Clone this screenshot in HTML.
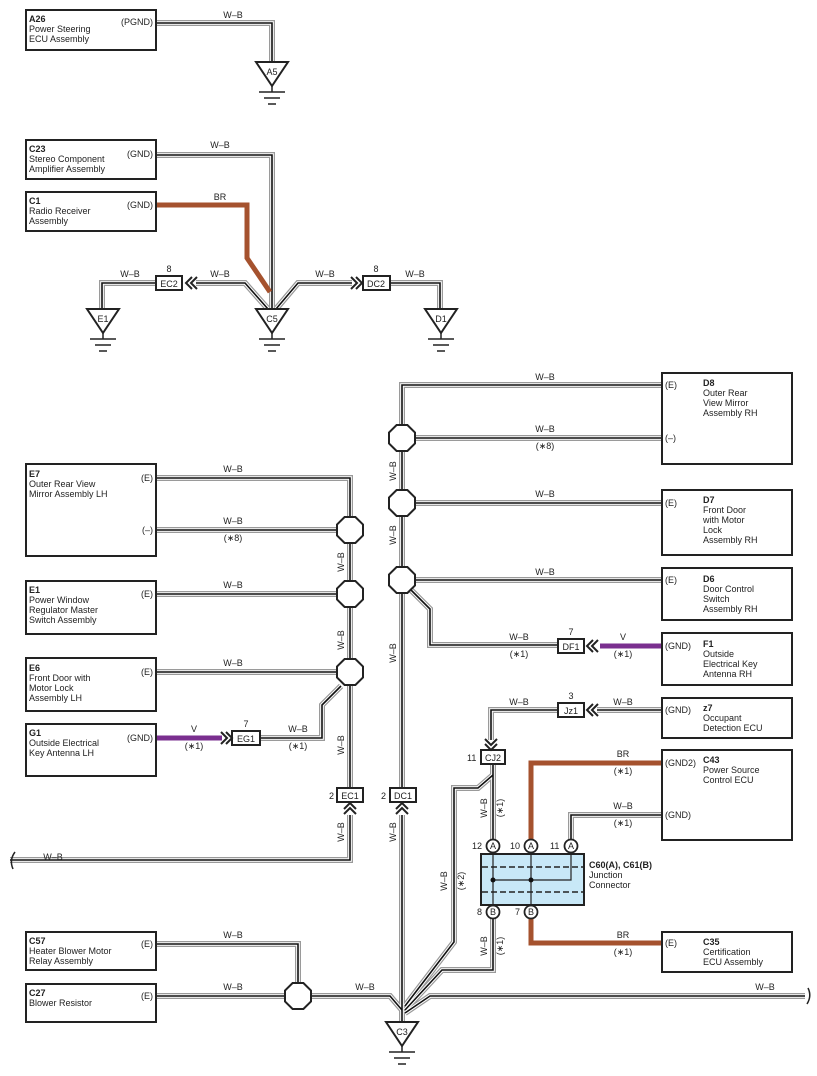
<!DOCTYPE html>
<html><head><meta charset="utf-8"><style>
html,body{margin:0;padding:0;background:#fff}
svg{display:block}
text{font-family:"Liberation Sans",sans-serif;font-size:9px;fill:#222}
.b{font-weight:bold}
</style></head><body>
<svg width="817" height="1076" viewBox="0 0 817 1076" xmlns="http://www.w3.org/2000/svg">
<defs>
<g id="w" fill="none">
<path d="M156 23H272V62"/>
<path d="M156 155H272V309"/>
<path d="M268 309L245 283H196"/>
<path d="M156 283H102V309"/>
<path d="M276 309L298 283H352"/>
<path d="M390 283H440V309"/>
<path d="M156 478H350V517"/>
<path d="M156 530H337"/><path d="M156 594H337"/><path d="M156 672H337"/>
<path d="M350 543V581"/><path d="M350 607V659"/><path d="M350 685V788"/>
<path d="M350 815V860H10"/>
<path d="M260 738H322V705L341 686"/>
<path d="M662 385H402V425"/>
<path d="M415 438H662"/><path d="M402 451V490"/>
<path d="M415 503H662"/><path d="M402 516V567"/>
<path d="M415 580H662"/><path d="M402 593V788"/>
<path d="M402 815V1022"/>
<path d="M411 590L430 609V645H558"/>
<path d="M662 710H597"/>
<path d="M558 710H491V740"/>
<path d="M493 764V840"/>
<path d="M493 775L478 788H454V942L405 1006"/>
<path d="M493 918V970H442L405 1010"/>
<path d="M662 815H571V840"/>
<path d="M805 996H430L405 1013"/>
<path d="M156 944H298V983"/>
<path d="M156 996H285"/>
<path d="M311 996H390L402 1010"/>
</g>
<polygon id="oct" points="-5.4,-13 5.4,-13 13,-5.4 13,5.4 5.4,13 -5.4,13 -13,5.4 -13,-5.4" fill="#fff" stroke="#222" stroke-width="2"/>
<g id="gnd" fill="#fff" stroke="#222" stroke-width="2">
<polygon points="-16,0 16,0 0,24"/>
<path d="M0 24V30M-13 30H13M-8 36H8M-4 42H4" fill="none" stroke-width="1.5"/>
</g>
<g id="chev" fill="none" stroke="#222" stroke-width="2">
<path d="M-10 -6L-4 0L-10 6M-5 -6L1 0L-5 6"/>
</g>
</defs>

<!-- wires -->
<use href="#w" stroke="#9a9a9a" stroke-width="6"/>
<use href="#w" stroke="#fff" stroke-width="3.6"/>
<use href="#w" stroke="#111" stroke-width="1.6"/>

<!-- colored wires -->
<g fill="none" stroke-width="5">
<path d="M156 205H247V258L270 292" stroke="#a5522e"/>
<path d="M156 738H222" stroke="#7a2f8f"/>
<path d="M600 646H662" stroke="#7a2f8f"/>
<path d="M662 763H531V840" stroke="#a5522e"/>
<path d="M531 918V943H662" stroke="#a5522e"/>
</g>

<!-- boxes -->
<g fill="#fff" stroke="#222" stroke-width="2">
<rect x="26" y="10" width="130" height="40"/>
<rect x="26" y="140" width="130" height="39"/>
<rect x="26" y="192" width="130" height="39"/>
<rect x="26" y="464" width="130" height="92"/>
<rect x="26" y="581" width="130" height="53"/>
<rect x="26" y="658" width="130" height="53"/>
<rect x="26" y="724" width="130" height="52"/>
<rect x="26" y="932" width="130" height="38"/>
<rect x="26" y="984" width="130" height="38"/>
<rect x="662" y="373" width="130" height="91"/>
<rect x="662" y="490" width="130" height="65"/>
<rect x="662" y="568" width="130" height="52"/>
<rect x="662" y="633" width="130" height="52"/>
<rect x="662" y="698" width="130" height="40"/>
<rect x="662" y="750" width="130" height="90"/>
<rect x="662" y="932" width="130" height="40"/>
<!-- small connectors -->
<rect x="156" y="276" width="26" height="14"/>
<rect x="363" y="276" width="27" height="14"/>
<rect x="232" y="731" width="28" height="14"/>
<rect x="558" y="639" width="26" height="14"/>
<rect x="558" y="703" width="26" height="14"/>
<rect x="481" y="750" width="24" height="14"/>
<rect x="337" y="788" width="26" height="14"/>
<rect x="390" y="788" width="26" height="14"/>
</g>

<!-- chevrons -->
<use href="#chev" transform="translate(187 283) rotate(180)"/>
<use href="#chev" transform="translate(361 283)"/>
<use href="#chev" transform="translate(231 738)"/>
<use href="#chev" transform="translate(588 646) rotate(180)"/>
<use href="#chev" transform="translate(588 710) rotate(180)"/>
<use href="#chev" transform="translate(491 749) rotate(90)"/>
<use href="#chev" transform="translate(350 804) rotate(-90)"/>
<use href="#chev" transform="translate(402 804) rotate(-90)"/>

<!-- octagons -->
<use href="#oct" x="350" y="530"/>
<use href="#oct" x="350" y="594"/>
<use href="#oct" x="350" y="672"/>
<use href="#oct" x="402" y="438"/>
<use href="#oct" x="402" y="503"/>
<use href="#oct" x="402" y="580"/>
<use href="#oct" x="298" y="996"/>

<!-- grounds -->
<use href="#gnd" x="272" y="62"/>
<use href="#gnd" x="103" y="309"/>
<use href="#gnd" x="272" y="309"/>
<use href="#gnd" x="441" y="309"/>
<use href="#gnd" x="402" y="1022"/>

<!-- junction connector -->
<rect x="481" y="854" width="103" height="51" fill="#c8e8f7" stroke="#222" stroke-width="2"/>
<g stroke="#222" stroke-width="1.5" fill="none">
<path d="M482 867H583M482 892H583" stroke-dasharray="6 3"/>
<path d="M493 854V905M531 854V905M493 880H571V854" stroke-width="1.2"/>
</g>
<circle cx="493" cy="880" r="2.5" fill="#111"/><circle cx="531" cy="880" r="2.5" fill="#111"/>
<g fill="#fff" stroke="#222" stroke-width="1.8">
<circle cx="493" cy="846" r="6.5"/><circle cx="531" cy="846" r="6.5"/><circle cx="571" cy="846" r="6.5"/>
<circle cx="493" cy="912" r="6.5"/><circle cx="531" cy="912" r="6.5"/>
</g>
<g text-anchor="middle" style="font-size:8.5px">
<text x="493" y="849">A</text><text x="531" y="849">A</text><text x="571" y="849">A</text>
<text x="493" y="915">B</text><text x="531" y="915">B</text>
</g>
<text x="472" y="849">12</text><text x="510" y="849">10</text><text x="550" y="849">11</text>
<text x="477" y="915">8</text><text x="515" y="915">7</text>
<text x="589" y="868" class="b">C60(A), C61(B)</text>
<text x="589" y="878">Junction</text><text x="589" y="888">Connector</text>

<!-- braces -->
<path d="M15 852Q9 860 13 869" fill="none" stroke="#222" stroke-width="1.5"/>
<path d="M808 988Q812 996 807 1004" fill="none" stroke="#222" stroke-width="1.5"/>

<!-- connector labels -->
<g text-anchor="middle">
<text x="169" y="287">EC2</text><text x="169" y="272">8</text>
<text x="376" y="287">DC2</text><text x="376" y="272">8</text>
<text x="246" y="742">EG1</text><text x="246" y="727">7</text>
<text x="571" y="650">DF1</text><text x="571" y="635">7</text>
<text x="571" y="714">Jz1</text><text x="571" y="699">3</text>
<text x="493" y="761">CJ2</text>
<text x="350" y="799">EC1</text>
<text x="403" y="799">DC1</text>
<text x="272" y="75">A5</text>
<text x="103" y="322">E1</text>
<text x="272" y="322">C5</text>
<text x="441" y="322">D1</text>
<text x="402" y="1035">C3</text>
</g>
<text x="467" y="761">11</text>
<text x="329" y="799">2</text>
<text x="381" y="799">2</text>

<!-- wire labels -->
<g text-anchor="middle">
<text x="233" y="18">W–B</text>
<text x="220" y="148">W–B</text>
<text x="220" y="200">BR</text>
<text x="130" y="277">W–B</text>
<text x="220" y="277">W–B</text>
<text x="325" y="277">W–B</text>
<text x="415" y="277">W–B</text>
<text x="233" y="472">W–B</text>
<text x="233" y="524">W–B</text><text x="233" y="541">(∗8)</text>
<text x="233" y="588">W–B</text>
<text x="233" y="666">W–B</text>
<text x="194" y="732">V</text><text x="194" y="749">(∗1)</text>
<text x="298" y="732">W–B</text><text x="298" y="749">(∗1)</text>
<text x="545" y="380">W–B</text>
<text x="545" y="432">W–B</text><text x="545" y="449">(∗8)</text>
<text x="545" y="497">W–B</text>
<text x="545" y="575">W–B</text>
<text x="519" y="640">W–B</text><text x="519" y="657">(∗1)</text>
<text x="623" y="640">V</text><text x="623" y="657">(∗1)</text>
<text x="519" y="705">W–B</text>
<text x="623" y="705">W–B</text>
<text x="623" y="757">BR</text><text x="623" y="774">(∗1)</text>
<text x="623" y="809">W–B</text><text x="623" y="826">(∗1)</text>
<text x="623" y="938">BR</text><text x="623" y="955">(∗1)</text>
<text x="53" y="860">W–B</text>
<text x="233" y="938">W–B</text>
<text x="233" y="990">W–B</text>
<text x="365" y="990">W–B</text>
<text x="765" y="990">W–B</text>
</g>
<g text-anchor="middle">
<text transform="translate(344 562) rotate(-90)">W–B</text>
<text transform="translate(344 640) rotate(-90)">W–B</text>
<text transform="translate(344 745) rotate(-90)">W–B</text>
<text transform="translate(344 832) rotate(-90)">W–B</text>
<text transform="translate(396 471) rotate(-90)">W–B</text>
<text transform="translate(396 535) rotate(-90)">W–B</text>
<text transform="translate(396 653) rotate(-90)">W–B</text>
<text transform="translate(396 832) rotate(-90)">W–B</text>
<text transform="translate(487 808) rotate(-90)">W–B</text>
<text transform="translate(503 808) rotate(-90)">(∗1)</text>
<text transform="translate(447 881) rotate(-90)">W–B</text>
<text transform="translate(464 881) rotate(-90)">(∗2)</text>
<text transform="translate(487 946) rotate(-90)">W–B</text>
<text transform="translate(503 946) rotate(-90)">(∗1)</text>
</g>

<!-- pin labels -->
<g text-anchor="end">
<text x="153" y="25">(PGND)</text>
<text x="153" y="157">(GND)</text>
<text x="153" y="208">(GND)</text>
<text x="153" y="481">(E)</text>
<text x="153" y="533">(–)</text>
<text x="153" y="597">(E)</text>
<text x="153" y="675">(E)</text>
<text x="153" y="741">(GND)</text>
<text x="153" y="947">(E)</text>
<text x="153" y="999">(E)</text>
</g>
<text x="665" y="388">(E)</text>
<text x="665" y="441">(–)</text>
<text x="665" y="506">(E)</text>
<text x="665" y="583">(E)</text>
<text x="665" y="649">(GND)</text>
<text x="665" y="713">(GND)</text>
<text x="665" y="766">(GND2)</text>
<text x="665" y="818">(GND)</text>
<text x="665" y="946">(E)</text>

<!-- box text left -->
<text x="29" y="22" class="b">A26</text><text x="29" y="32">Power Steering</text><text x="29" y="42">ECU Assembly</text>
<text x="29" y="152" class="b">C23</text><text x="29" y="162">Stereo Component</text><text x="29" y="172">Amplifier Assembly</text>
<text x="29" y="204" class="b">C1</text><text x="29" y="214">Radio Receiver</text><text x="29" y="224">Assembly</text>
<text x="29" y="477" class="b">E7</text><text x="29" y="487">Outer Rear View</text><text x="29" y="497">Mirror Assembly LH</text>
<text x="29" y="593" class="b">E1</text><text x="29" y="603">Power Window</text><text x="29" y="613">Regulator Master</text><text x="29" y="623">Switch Assembly</text>
<text x="29" y="671" class="b">E6</text><text x="29" y="681">Front Door with</text><text x="29" y="691">Motor Lock</text><text x="29" y="701">Assembly LH</text>
<text x="29" y="736" class="b">G1</text><text x="29" y="746">Outside Electrical</text><text x="29" y="756">Key Antenna LH</text>
<text x="29" y="944" class="b">C57</text><text x="29" y="954">Heater Blower Motor</text><text x="29" y="964">Relay Assembly</text>
<text x="29" y="996" class="b">C27</text><text x="29" y="1006">Blower Resistor</text>
<!-- box text right -->
<text x="703" y="386" class="b">D8</text><text x="703" y="396">Outer Rear</text><text x="703" y="406">View Mirror</text><text x="703" y="416">Assembly RH</text>
<text x="703" y="503" class="b">D7</text><text x="703" y="513">Front Door</text><text x="703" y="523">with Motor</text><text x="703" y="533">Lock</text><text x="703" y="543">Assembly RH</text>
<text x="703" y="582" class="b">D6</text><text x="703" y="592">Door Control</text><text x="703" y="602">Switch</text><text x="703" y="612">Assembly RH</text>
<text x="703" y="647" class="b">F1</text><text x="703" y="657">Outside</text><text x="703" y="667">Electrical Key</text><text x="703" y="677">Antenna RH</text>
<text x="703" y="711" class="b">z7</text><text x="703" y="721">Occupant</text><text x="703" y="731">Detection ECU</text>
<text x="703" y="763" class="b">C43</text><text x="703" y="773">Power Source</text><text x="703" y="783">Control ECU</text>
<text x="703" y="945" class="b">C35</text><text x="703" y="955">Certification</text><text x="703" y="965">ECU Assembly</text>
</svg>
</body></html>
